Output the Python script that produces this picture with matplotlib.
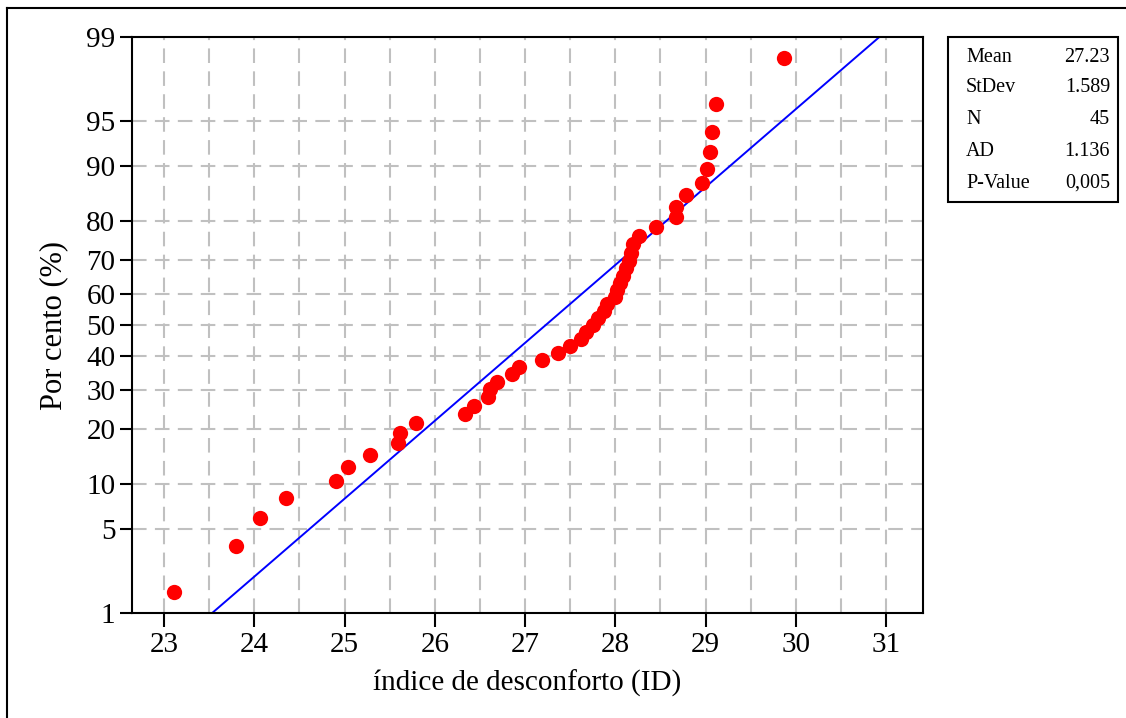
import math
import numpy as np
import matplotlib
matplotlib.use("Agg")
import matplotlib.pyplot as plt
from matplotlib.lines import Line2D
from matplotlib.patches import Rectangle
from statistics import NormalDist

plt.rcParams['font.family'] = ['Liberation Serif', 'DejaVu Serif']

# ---- data ----
id_values = [23.11, 23.80, 24.06, 24.35, 24.91, 25.04, 25.28, 25.59, 25.62, 25.79,
             26.33, 26.44, 26.59, 26.61, 26.69, 26.86, 26.93, 27.19, 27.37, 27.50,
             27.62, 27.68, 27.75, 27.81, 27.88, 27.91, 28.00, 28.02, 28.05, 28.09,
             28.12, 28.15, 28.17, 28.20, 28.26, 28.45, 28.67, 28.67, 28.78, 28.96,
             29.02, 29.05, 29.07, 29.12, 29.87]
mean_val = 27.23
sd_val = 1.589
stat_labels = ["Mean", "StDev", "N", "AD", "P-Value"]
stat_values = ["27.23", "1.589", "45", "1.136", "0,005"]
y_ticks = [1, 5, 10, 20, 30, 40, 50, 60, 70, 80, 90, 95, 99]
y_grid = [5, 10, 20, 30, 40, 50, 60, 70, 80, 90, 95]
x_ticks = [23, 24, 25, 26, 27, 28, 29, 30, 31]

nd = NormalDist()


def _f1(p):
    if not math.isfinite(p):
        return float('nan')
    p = min(max(p, 1e-6), 100 - 1e-6)
    return nd.inv_cdf(p / 100.0)


def _i1(z):
    if not math.isfinite(z):
        return float('nan')
    return nd.cdf(z) * 100.0


_fwd = np.vectorize(_f1, otypes=[float])
_inv = np.vectorize(_i1, otypes=[float])


def forward(p):
    return _fwd(np.asarray(p, dtype=float))


def inverse(z):
    return _inv(np.asarray(z, dtype=float))


n = len(id_values)
xs = np.sort(np.array(id_values))
ranks = np.arange(1, n + 1)
probs = (ranks - 0.3) / (n + 0.4) * 100.0

fig = plt.figure(figsize=(11.26, 7.18), dpi=100)
ax = fig.add_axes([132 / 1126, 1 - 613 / 718, 791 / 1126, 576 / 718])
ax.set_yscale('function', functions=(forward, inverse))
ax.set_ylim(1, 99)
ax.set_xlim(22.645, 31.41)

# grid
grid_kw = dict(color='#c0c0c0', lw=1.5, dashes=(7, 4), zorder=0)
for g in np.arange(23, 31.01, 0.5):
    ax.axvline(g, **grid_kw)
for g in y_grid:
    ax.axhline(g, **grid_kw)

# fitted line
pl = np.linspace(1, 99, 400)
zl = forward(pl)
ax.plot(mean_val + sd_val * zl, pl, color='#0000ff', lw=1.4, zorder=2)

# points
ax.plot(xs, probs, 'o', color='#ff0000', markersize=11, markeredgewidth=0, zorder=3)

ax.set_yticks(y_ticks)
ax.set_yticklabels([str(t) for t in y_ticks])
ax.set_xticks(x_ticks)
ax.set_xticklabels([str(t) for t in x_ticks])
ax.yaxis.set_minor_locator(matplotlib.ticker.NullLocator())
ax.xaxis.set_minor_locator(matplotlib.ticker.NullLocator())
ax.tick_params(axis='y', direction='out', length=9, width=1.5, labelsize=21, pad=3)
ax.tick_params(axis='x', direction='out', length=10, width=1.5, labelsize=21, pad=4)
for s in ax.spines.values():
    s.set_linewidth(1.5)

ax.set_xlabel("índice de desconforto (ID)", fontsize=21, labelpad=8)
ax.set_ylabel("Por cento (%)", fontsize=22, labelpad=13)

# stats box
fig.add_artist(Rectangle((948 / 1126, 1 - 202 / 718), 170 / 1126, 165 / 718,
                         transform=fig.transFigure, fill=False, lw=1.5, ec='black'))
rows_y = [58, 88, 120, 151, 183]
for lab, val, yy in zip(stat_labels, stat_values, rows_y):
    fig.text(966 / 1126, 1 - yy / 718, lab, fontsize=14.5, ha='left', va='center')
    fig.text(1110 / 1126, 1 - yy / 718, val, fontsize=14.5, ha='right', va='center')

# outer frame
fig.add_artist(Line2D([7 / 1126, 1.0], [1 - 8 / 718, 1 - 8 / 718], transform=fig.transFigure,
                      color='black', lw=1.5))
fig.add_artist(Line2D([7 / 1126, 7 / 1126], [1 - 8 / 718, 0.0], transform=fig.transFigure,
                      color='black', lw=1.5))

fig.savefig("out.png", dpi=100)
